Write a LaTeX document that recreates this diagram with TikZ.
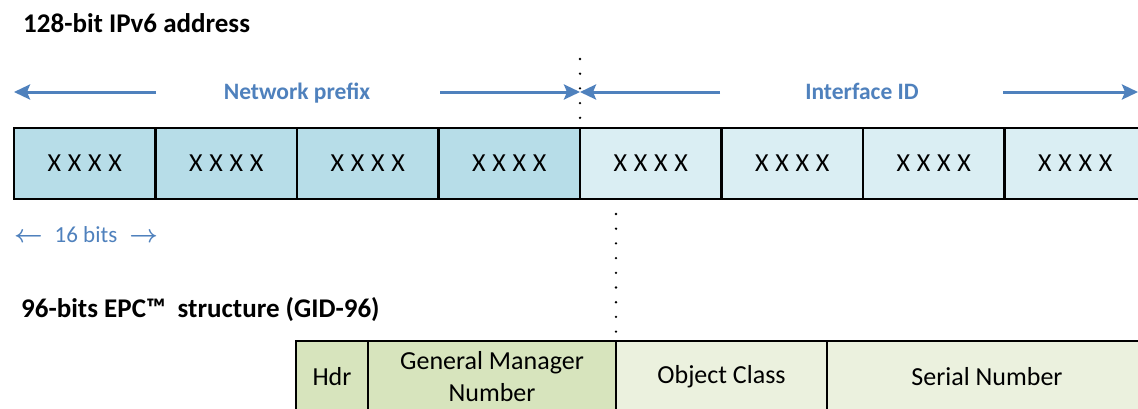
\documentclass[tikz,border=0pt]{standalone}
\usepackage{fontspec}
\setmainfont{Carlito}
\usetikzlibrary{arrows.meta}
\definecolor{acc}{HTML}{4F81BD}
\definecolor{blueA}{HTML}{B7DDE8}
\definecolor{blueB}{HTML}{DAEEF3}
\definecolor{greenA}{HTML}{D7E4BD}
\definecolor{greenB}{HTML}{EBF1DE}
\tikzset{
  cellbox/.style={draw=black, line width=2.7pt, outer sep=0pt, inner sep=0pt,
    minimum height=71pt, minimum width=141.5pt, anchor=north west,
    font=\fontsize{26}{31}\selectfont},
  epcbox/.style={draw=black, line width=2.7pt, outer sep=0pt, inner sep=0pt,
    minimum height=72pt, anchor=north west, align=center,
    font=\fontsize{26}{32}\selectfont},
  titletext/.style={anchor=base west, inner sep=0pt, font=\fontsize{27}{32}\selectfont\bfseries},
  lbltext/.style={anchor=base, inner sep=0pt, text=acc, font=\fontsize{23.5}{28}\selectfont\bfseries},
  arr/.style={draw=acc, line width=3pt, -{Stealth[length=16pt,width=15pt,inset=3pt]}},
  dotline/.style={line width=2.6pt, line cap=round, dash pattern=on 0pt off 14.7pt}
}
\newcommand{\xxxx}{X\hspace{6.8pt}X\hspace{6.8pt}X\hspace{6.8pt}X}
\begin{document}
\begin{tikzpicture}[x=1pt,y=-1pt]
\useasboundingbox (0,0) rectangle (1138,408);
\clip (0,0) rectangle (1138,408);
\fill[white] (0,0) rectangle (1138,408);

% titles
\node[titletext] (t1) at (23,32) {128-bit IPv6 address};
\node[titletext] (t2) at (21,317) {96-bits EPC™\ \ structure (GID-96)};

% IPv6 cells
\foreach \i in {1,...,4} {
  \node[cellbox, fill=blueA] (c\i) at ({14+(\i-1)*141.5},128) {\xxxx};
}
\foreach \i in {5,...,8} {
  \node[cellbox, fill=blueB] (c\i) at ({14+(\i-1)*141.5},128) {\xxxx};
}

% labels and arrows
\node[lbltext] (np) at (297,99.5) {Network prefix};
\node[lbltext] (iid) at (862,99.5) {Interface ID};
\coordinate (npl) at (14,92);
\coordinate (npr) at (580,92);
\coordinate (iidl) at (580,92);
\coordinate (iidr) at (1138,92);
\draw[arr] (156,92) coordinate (npls) -- (npl);
\draw[arr] (440,92) coordinate (nprs) -- (npr);
\draw[arr] (720,92) coordinate (iidls) -- (iidl);
\draw[arr] (1003,92) coordinate (iidrs) -- (iidr);

% 16 bits
\node[inner sep=0pt, text=acc, font=\fontsize{23}{27}\selectfont\boldmath] (bits) at (86,235)
  {$\leftarrow$\hspace{12pt}16 bits\hspace{12pt}$\rightarrow$};

% dotted separators
\coordinate (dtop) at (580,59);
\coordinate (dtopend) at (580,125);
\draw[dotline] (dtop) -- (dtopend);

% EPC structure
\node[epcbox, fill=greenA, minimum width=72pt] (hdr) at (296,341) {Hdr};
\node[epcbox, fill=greenA, minimum width=248pt] (gmn) at (368,341) {General Manager\\Number};
\node[epcbox, fill=greenB, minimum width=211pt] (oc) at (616,341) {Object Class};
\node[epcbox, fill=greenB, minimum width=320pt] (sn) at (827,341) {Serial Number};

\coordinate (dbot) at (616,214);
\coordinate (dbotend) at (616,336);
\draw[dotline] (dbot) -- (dbotend);
\end{tikzpicture}
\end{document}
